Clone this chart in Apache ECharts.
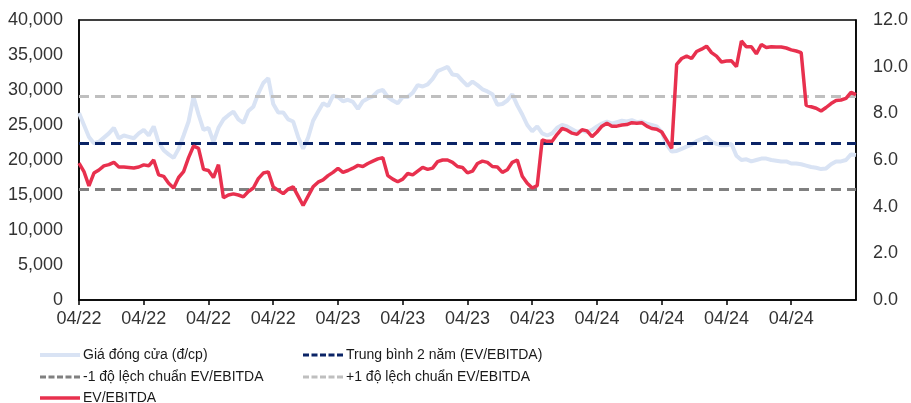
<!DOCTYPE html>
<html>
<head>
<meta charset="utf-8">
<script src="https://cdn.jsdelivr.net/npm/echarts@6/dist/echarts.min.js"></script>
<style>
  html, body { margin: 0; padding: 0; background: #fff; }
  #chart { width: 911px; height: 403px; }
</style>
</head>
<body>
<div id="chart"></div>
<script>
// Axis tick labels (one per labelled tick, 13 trading samples apart)
const tickLabels = ['04/22', '04/22', '04/22', '04/22', '04/23', '04/23', '04/23', '04/23', '04/24', '04/24', '04/24', '04/24'];
const samplesPerTick = 13;

// Closing price (VND per share)
const closePrice = [
  26700, 25000, 23300, 22400, 22600, 23200, 23800, 24600, 23100, 23500,
  23300, 23100, 23800, 24300, 23500, 24800, 22500, 21400, 20800, 20300,
  21600, 23500, 25500, 29000, 26500, 24300, 24600, 22600, 24600, 25800,
  26400, 26900, 25800, 25300, 27000, 27600, 29500, 31000, 31700, 28000,
  26800, 26800, 25800, 25500, 23300, 21600, 23200, 25600, 26900, 28100,
  27700, 29200, 29000, 28400, 28600, 28300, 27300, 28400, 28800, 29100,
  29800, 30000, 29000, 28500, 28100, 29000, 29000, 29600, 30700, 30500,
  30800, 31600, 32700, 33000, 33300, 32200, 32100, 31300, 30600, 31200,
  30700, 30100, 29800, 29400, 27900, 28000, 28500, 29400, 27800, 26500,
  25000, 24100, 24800, 23800, 23500, 23800, 24600, 25000, 24800, 24400,
  24000, 24200, 24000, 24300, 24800, 25200, 25500, 25200, 25400, 25600,
  25500, 25700, 25400, 25500, 25200, 25000, 24800, 24000, 22200, 21200,
  21300, 21600, 21900, 22200, 22700, 23000, 23300, 22600, 22300, 22100,
  22100, 22300, 20600, 20000, 20100, 19800, 20000, 20200, 20200, 20000,
  19900, 19800, 19800, 19500, 19500, 19400, 19200, 19000, 18900, 18700,
  18800, 19400, 19800, 19800, 20000, 20800, 20700
];

// EV/EBITDA multiple (x)
const evEbitda = [
  5.87, 5.50, 4.89, 5.44, 5.57, 5.75, 5.80, 5.90, 5.70, 5.70,
  5.68, 5.66, 5.70, 5.79, 5.75, 6.00, 5.36, 5.30, 5.00, 4.80,
  5.25, 5.50, 6.10, 6.60, 6.50, 5.60, 5.55, 5.25, 5.80, 4.38,
  4.50, 4.55, 4.50, 4.42, 4.65, 4.80, 5.20, 5.44, 5.49, 4.85,
  4.70, 4.56, 4.75, 4.85, 4.45, 4.05, 4.45, 4.85, 5.05, 5.15,
  5.33, 5.47, 5.64, 5.47, 5.55, 5.65, 5.77, 5.72, 5.85, 5.95,
  6.05, 6.10, 5.33, 5.18, 5.07, 5.18, 5.42, 5.36, 5.52, 5.68,
  5.60, 5.65, 5.93, 6.00, 6.00, 5.90, 5.72, 5.68, 5.45, 5.52,
  5.85, 5.95, 5.90, 5.72, 5.70, 5.47, 5.58, 5.90, 6.00, 5.30,
  5.00, 4.80, 4.90, 6.86, 6.80, 6.80, 7.10, 7.35, 7.28, 7.15,
  7.10, 7.30, 7.25, 7.00, 7.20, 7.45, 7.58, 7.45, 7.45, 7.50,
  7.52, 7.60, 7.58, 7.60, 7.45, 7.35, 7.32, 7.20, 6.85, 6.50,
  10.10, 10.35, 10.45, 10.35, 10.65, 10.75, 10.88, 10.60, 10.45, 10.20,
  10.24, 10.25, 10.00, 11.10, 10.85, 10.85, 10.55, 10.95, 10.82, 10.85,
  10.84, 10.84, 10.80, 10.72, 10.67, 10.60, 8.34, 8.28, 8.22, 8.10,
  8.25, 8.42, 8.55, 8.57, 8.64, 8.90, 8.80
];

// Two-year statistics of EV/EBITDA
const evMean = 6.73;
const evMinus1Sd = 4.73;
const evPlus1Sd = 8.73;

// Category axis: each sample inherits the label of the tick it follows
const categories = evEbitda.map((_, i) => tickLabels[Math.min(Math.floor(i / samplesPerTick), tickLabels.length - 1)]);
const isTick = (i) => i % samplesPerTick === 0 && i / samplesPerTick < tickLabels.length;

const FONT = 'Liberation Sans, Arial, sans-serif';

// Legend glyphs: five short dashes for the reference lines, a flat bar for solid lines
const DASH_ICON = 'path://M0,0h6v3h-6z M8.5,0h6v3h-6z M17,0h6v3h-6z M25.5,0h6v3h-6z M34,0h6v3h-6z';

function legendItem(name, left, top, icon, height) {
  return {
    left: left, top: top, padding: 0,
    itemWidth: 40, itemHeight: height,
    icon: icon,
    itemStyle: { borderWidth: 0 },
    textStyle: { fontFamily: FONT, fontSize: 14, lineHeight: 16, color: '#1a1a1a', padding: [0, 0, 0, -2] },
    data: [name]
  };
}

function refLine(name, value, color) {
  return {
    name: name,
    type: 'line',
    yAxisIndex: 1,
    data: [],
    symbol: 'none',
    lineStyle: { color: color, width: 3, type: [10, 6] },
    itemStyle: { color: color },
    markLine: {
      silent: true,
      symbol: 'none',
      label: { show: false },
      lineStyle: { color: color, width: 3, type: [10, 6] },
      data: [{ yAxis: value }]
    }
  };
}

const chart = echarts.init(document.getElementById('chart'), null, { renderer: 'canvas' });
chart.setOption({
  animation: false,
  backgroundColor: '#ffffff',
  grid: {
    left: 79, right: 53, top: 20, bottom: 103,
    show: true, borderColor: '#000', borderWidth: 1.5, backgroundColor: 'transparent'
  },
  legend: [
    legendItem('Giá đóng cửa (đ/cp)', 40, 347, 'rect', 4),
    legendItem('-1 độ lệch chuẩn EV/EBITDA', 40, 369, DASH_ICON, 3),
    legendItem('EV/EBITDA', 40, 390, 'rect', 3.5),
    legendItem('Trung bình 2 năm (EV/EBITDA)', 303, 347, DASH_ICON, 3),
    legendItem('+1 độ lệch chuẩn EV/EBITDA', 303, 369, DASH_ICON, 3)
  ],
  xAxis: {
    type: 'category',
    data: categories,
    boundaryGap: false,
    axisLine: { lineStyle: { color: '#000', width: 1.5 } },
    axisTick: { show: true, interval: (i) => isTick(i), length: 5, lineStyle: { color: '#000', width: 1.5 } },
    axisLabel: { interval: (i) => isTick(i), margin: 10, fontFamily: FONT, fontSize: 18, color: '#333' },
    splitLine: { show: false }
  },
  yAxis: [
    {
      type: 'value', min: 0, max: 40000, interval: 5000,
      axisLine: { show: true, lineStyle: { color: '#000', width: 1.5 } },
      axisTick: { show: false },
      splitLine: { show: false },
      axisLabel: { margin: 16, fontFamily: FONT, fontSize: 18, color: '#333' }
    },
    {
      type: 'value', min: 0, max: 12, interval: 2, position: 'right',
      axisLine: { show: true, lineStyle: { color: '#000', width: 1.5 } },
      axisTick: { show: false },
      splitLine: { show: false },
      axisLabel: { margin: 17, fontFamily: FONT, fontSize: 18, color: '#333', formatter: (v) => v.toFixed(1) }
    }
  ],
  series: [
    {
      name: 'Giá đóng cửa (đ/cp)',
      type: 'line',
      yAxisIndex: 0,
      data: closePrice,
      symbol: 'none',
      lineStyle: { color: '#D9E3F4', width: 4 },
      itemStyle: { color: '#D9E3F4' },
      z: 1
    },
    refLine('Trung bình 2 năm (EV/EBITDA)', evMean, '#0B2466'),
    refLine('-1 độ lệch chuẩn EV/EBITDA', evMinus1Sd, '#808080'),
    refLine('+1 độ lệch chuẩn EV/EBITDA', evPlus1Sd, '#BFBFBF'),
    {
      name: 'EV/EBITDA',
      type: 'line',
      yAxisIndex: 1,
      data: evEbitda,
      symbol: 'none',
      lineStyle: { color: '#E8304E', width: 3.5 },
      itemStyle: { color: '#E8304E' },
      z: 5
    }
  ]
});
</script>
</body>
</html>
